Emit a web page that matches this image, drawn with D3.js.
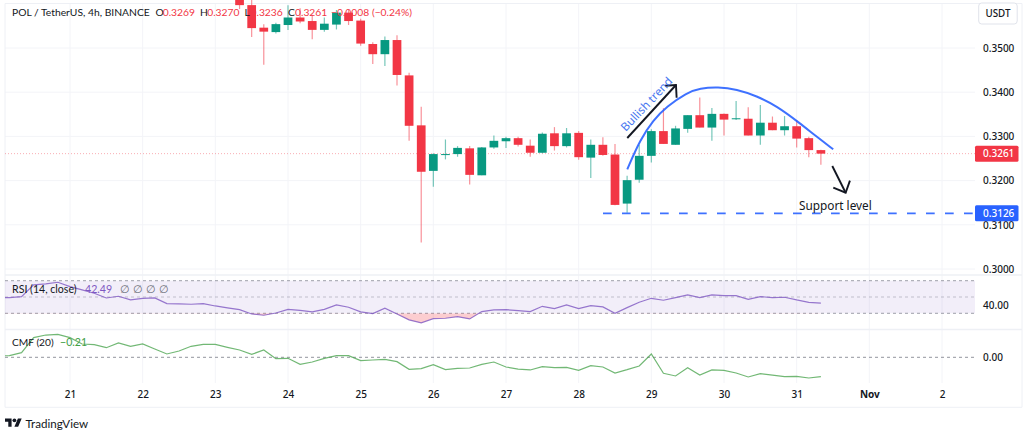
<!DOCTYPE html>
<html><head><meta charset="utf-8">
<script src="https://cdn.jsdelivr.net/npm/d3@7"></script>
<style>html,body{margin:0;padding:0;background:#fff;overflow:hidden}svg{display:block}text{font-family:"Noto Sans",sans-serif;fill:#131722}</style>
</head><body><svg id="c" width="1024" height="434"></svg>
<script>
// --- data ---
const opens=[.3615,.3597,.3546,.3536,.3552,.3569,.3561,.3541,.3553,.3580,.3562,.3509,.3486,.3518,.3438,.3325,.3222,.3258,.3260,.3273,.3212,.3275,.3289,.3296,.3279,.3263,.3307,.3278,.3308,.3252,.3281,.3259,.3148,.3202,.3256,.3312,.3281,.3317,.3348,.3320,.3351,.3339,.3340,.3302,.3331,.3314,.3323,.3296,.3269];
const highs=[.3620,.3618,.3554,.3557,.3597,.3590,.3575,.3569,.3586,.3586,.3566,.3513,.3526,.3529,.3444,.3367,.3262,.3293,.3278,.3278,.3276,.3302,.3299,.3299,.3293,.3309,.3321,.3319,.3312,.3293,.3298,.3283,.3211,.3281,.3316,.3364,.3324,.3348,.3388,.3364,.3352,.3380,.3366,.3371,.3345,.3346,.3337,.3299,.3270];
const lows=[.3588,.3525,.3462,.3533,.3541,.3556,.3520,.3537,.3542,.3552,.3505,.3464,.3459,.3415,.3290,.3060,.3186,.3248,.3254,.3191,.3212,.3272,.3274,.3277,.3254,.3262,.3268,.3275,.3247,.3206,.3256,.3144,.3127,.3195,.3241,.3283,.3281,.3308,.3320,.3290,.3302,.3337,.3302,.3281,.3314,.3302,.3275,.3253,.3236];
const closes=[.3597,.3545,.3537,.3554,.3569,.3560,.3541,.3555,.3580,.3561,.3510,.3486,.3518,.3439,.3324,.3220,.3260,.3260,.3274,.3213,.3275,.3290,.3296,.3281,.3263,.3306,.3278,.3307,.3253,.3281,.3258,.3145,.3201,.3256,.3312,.3283,.3318,.3348,.3320,.3351,.3338,.3341,.3302,.3331,.3314,.3323,.3295,.3269,.3261];
const rsiValues=[48.8,49.3,50.5,64.8,66.0,68.1,62.8,58.7,54.6,48.8,50.9,46.4,48.4,48.8,41.9,41.5,41.1,41.9,39.0,36.6,34.5,29.2,27.6,30.4,34.9,33.7,31.7,34.9,40.3,37.4,31.7,29.6,36.2,29.2,21.9,18.2,23.5,23.9,25.9,23.1,32.1,34.1,34.5,33.3,32.1,38.6,35.8,40.3,35.8,39.4,37.8,30.0,37.0,43.5,48.4,46.0,49.3,52.5,49.3,52.5,51.7,51.7,47.2,50.5,49.3,49.7,46.4,43.5,42.49];
const cmfValues=[.014,.018,.050,.213,.241,.249,.213,.144,.137,.104,.155,.119,.144,.090,.036,.068,.119,.140,.140,.108,.079,.032,.079,-.015,-.011,-.076,-.051,-.011,.018,.018,-.036,-.029,-.022,-.047,-.130,-.123,-.080,-.134,-.119,-.116,-.076,-.051,-.105,-.127,-.137,-.101,-.112,-.109,-.141,-.091,-.105,-.170,-.134,-.094,.036,-.173,-.202,-.112,-.192,-.137,-.141,-.170,-.213,-.177,-.192,-.210,-.206,-.224,-.21];
const priceTicks=[.30,.31,.32,.33,.34,.35];
const dayTicks=[["2024-10-21","21"],["2024-10-22","22"],["2024-10-23","23"],["2024-10-24","24"],["2024-10-25","25"],["2024-10-26","26"],["2024-10-27","27"],["2024-10-28","28"],["2024-10-29","29"],["2024-10-30","30"],["2024-10-31","31"],["2024-11-01","Nov"],["2024-11-02","2"]];
const lastPrice=.3261, supportPrice=.3126;
// annotations: day of October (fractional) and price
const arcDays=[28.669,28.844,29.027,29.211,29.486,29.669,29.917,30.174,30.449,30.724,31.045,31.275,31.503];
const arcPrices=[.32256,.32919,.33371,.33672,.33989,.34088,.34118,.34066,.33914,.33688,.33296,.32993,.32708];
const upArrowDays=[28.669,29.339], upArrowPrices=[.32964,.34163];
const upHeadDays=[29.188,29.339,29.348], upHeadPrices=[.34147,.34163,.33876];
const downArrowDays=[31.490,31.674], downArrowPrices=[.32330,.31726];
const downHeadDays=[31.504,31.674,31.733], downHeadPrices=[.31839,.31726,.31998];
const supportStartDay=28.335;

// --- layout ---
const L=5,R=975,W=1022,T=3.5,mainB=275,rsiB=329.5,plotB=383,axisB=407.3;
const UP="#089981",DOWN="#f23645",BLUE="#2962ff",GRID="#f3f4f8",LINE="#eef0f5";
const LATO='Lato,sans-serif';
const H4=4*36e5, candleStart=Date.UTC(2024,9,23,8), indicatorStart=Date.UTC(2024,9,20,0);
const x=d3.scaleUtc().domain([new Date("2024-10-21"),new Date("2024-11-02")]).range([70,942]);
const y=d3.scaleLinear().domain([.30,.35]).range([269,48]);
const yR=d3.scaleLinear().domain([30,70]).range([313.3,280.7]);
const yC=d3.scaleLinear().domain([-.21,0]).range([376.7,357.3]);
const dayX=d=>x(new Date(Date.UTC(2024,9,1)+(d-1)*864e5));
const svg=d3.select("#c");
const defs=svg.append("defs");
const clip=(id,a,b)=>defs.append("clipPath").attr("id",id).append("rect").attr("x",L).attr("y",a).attr("width",R-L).attr("height",b-a);
clip("cMain",0,mainB);clip("cRsi",mainB,rsiB);clip("cCmf",rsiB,plotB);clip("cLow",yR(30),rsiB);

// grid and frame
const g=svg.append("g");
g.selectAll(".v").data(dayTicks).join("line").attr("x1",d=>x(new Date(d[0]))).attr("x2",d=>x(new Date(d[0]))).attr("y1",T).attr("y2",plotB).attr("stroke",GRID);
g.selectAll(".h").data(priceTicks).join("line").attr("x1",L).attr("x2",R).attr("y1",d=>y(d)).attr("y2",d=>y(d)).attr("stroke",GRID);
const frame=(x1,y1,x2,y2,w)=>g.append("line").attr("x1",x1).attr("y1",y1).attr("x2",x2).attr("y2",y2).attr("stroke",LINE).attr("stroke-width",w||1);
frame(L,T,W,T);frame(L,T,L,axisB);frame(W,T,W,axisB);frame(L,axisB,W,axisB);frame(L,mainB,W,mainB,1.5);frame(L,rsiB,W,rsiB,1.5);

// candles
const step=x(new Date(candleStart+H4))-x(new Date(candleStart));
const cw=step*.72;
const candles=opens.map((o,i)=>({t:new Date(candleStart+i*H4),o,h:highs[i],l:lows[i],c:closes[i]}));
const cg=svg.append("g").attr("clip-path","url(#cMain)");
const col=d=>d.c>=d.o?UP:DOWN;

// last price line
cg.append("line").attr("x1",L).attr("x2",R).attr("y1",y(lastPrice)).attr("y2",y(lastPrice)).attr("stroke",DOWN).attr("stroke-opacity",.4).attr("stroke-dasharray","1 2");

cg.selectAll(".w").data(candles).join("line").attr("x1",d=>x(d.t)).attr("x2",d=>x(d.t)).attr("y1",d=>y(d.h)).attr("y2",d=>y(d.l)).attr("stroke",col).attr("stroke-opacity",.55).attr("stroke-width",1.2);
cg.selectAll(".b").data(candles).join("rect").attr("x",d=>x(d.t)-cw/2).attr("width",cw).attr("y",d=>y(Math.max(d.o,d.c))).attr("height",d=>Math.max(1,Math.abs(y(d.o)-y(d.c)))).attr("fill",col);

// annotations
const ann=svg.append("g").attr("clip-path","url(#cMain)");
const lineD=d3.line().x(d=>dayX(d[0])).y(d=>y(d[1]));
ann.append("path").attr("d",lineD.curve(d3.curveBasis)(d3.zip(arcDays,arcPrices))).attr("fill","none").attr("stroke",BLUE).attr("stroke-opacity",.9).attr("stroke-width",2);
lineD.curve(d3.curveLinear);
[[upArrowDays,upArrowPrices],[upHeadDays,upHeadPrices],[downArrowDays,downArrowPrices],[downHeadDays,downHeadPrices]].forEach(([a,b])=>
  ann.append("path").attr("d",lineD(d3.zip(a,b))).attr("fill","none").attr("stroke","#131722").attr("stroke-width",1.9));
svg.append("line").attr("x1",dayX(supportStartDay)).attr("x2",R).attr("y1",y(supportPrice)).attr("y2",y(supportPrice)).attr("stroke",BLUE).attr("stroke-opacity",.9).attr("stroke-width",1.7).attr("stroke-dasharray","8.7 10.3");
svg.append("text").attr("transform",`translate(${dayX(28.669)-1.5},${y(.32964)-6}) rotate(-46.5)`).style("font-size","11.6px").style("fill","#4a78f0").text("Bullish trend");
svg.append("text").attr("x",799).attr("y",y(supportPrice)-3.3).style("font-size","11.8px").text("Support level");

// RSI pane
const rg=svg.append("g").attr("clip-path","url(#cRsi)");
rg.append("rect").attr("x",L).attr("width",R-L).attr("y",yR(70)).attr("height",yR(30)-yR(70)).attr("fill","#7e57c2").attr("fill-opacity",.1);
[70,50,30].forEach((v,i)=>rg.append("line").attr("x1",L).attr("x2",R).attr("y1",yR(v)).attr("y2",yR(v)).attr("stroke","#787b86").attr("stroke-opacity",i==1?.4:.7).attr("stroke-dasharray","3 3"));
const idx=i=>x(new Date(indicatorStart+i*H4));
rg.append("path").attr("clip-path","url(#cLow)").attr("d",d3.area().x((d,i)=>idx(i)).y0(yR(30)).y1(d=>yR(d))(rsiValues)).attr("fill",DOWN).attr("fill-opacity",.25);
rg.append("path").attr("d",d3.line().x((d,i)=>idx(i)).y(d=>yR(d))(rsiValues)).attr("fill","none").attr("stroke","#7e57c2").attr("stroke-opacity",.8).attr("stroke-width",1.2);

// CMF pane
const mg=svg.append("g").attr("clip-path","url(#cCmf)");
mg.append("line").attr("x1",L).attr("x2",R).attr("y1",yC(0)).attr("y2",yC(0)).attr("stroke","#787b86").attr("stroke-opacity",.8).attr("stroke-dasharray","3 3");
mg.append("path").attr("d",d3.line().x((d,i)=>idx(i)).y(d=>yC(d))(cmfValues)).attr("fill","none").attr("stroke","#43a047").attr("stroke-opacity",.75).attr("stroke-width",1.2);

// axes
const styleAxis=s=>{s.select(".domain").remove();s.selectAll(".tick line").remove();s.selectAll("text").style("font-size","10px").style("font-weight",500).attr("fill",null);};
svg.append("g").attr("transform",`translate(${R},0)`).call(d3.axisRight(y).tickValues(priceTicks).tickFormat(d3.format(".4f")).tickSize(0).tickPadding(8)).call(styleAxis);
svg.append("g").attr("transform",`translate(${R},0)`).call(d3.axisRight(yR).tickValues([40]).tickFormat(d3.format(".2f")).tickSize(0).tickPadding(8)).call(styleAxis);
svg.append("g").attr("transform",`translate(${R},0)`).call(d3.axisRight(yC).tickValues([0]).tickFormat(d3.format(".2f")).tickSize(0).tickPadding(8)).call(styleAxis);
const labelOf=new Map(dayTicks.map(d=>[+new Date(d[0]),d[1]]));
const ta=svg.append("g").attr("transform",`translate(0,${plotB})`).call(d3.axisBottom(x).tickValues(dayTicks.map(d=>new Date(d[0]))).tickFormat(d=>labelOf.get(+d)).tickSize(0).tickPadding(8)).call(styleAxis);
ta.selectAll("text").filter(function(){return this.textContent==="Nov"}).style("font-weight",700);

// price tags
const tag=(p,c,t)=>{const yy=y(p);svg.append("rect").attr("x",R).attr("y",yy-8).attr("width",43.5).attr("height",16).attr("rx",1.5).attr("fill",c);
 svg.append("text").attr("x",983).attr("y",yy).attr("dy",".35em").style("font-size","10px").style("font-weight",500).style("fill","#fff").text(t);};
tag(lastPrice,DOWN,"0.3261");tag(supportPrice,BLUE,"0.3126");
svg.append("rect").attr("x",978.7).attr("y",3).attr("width",38.5).attr("height",21).attr("rx",3).attr("fill","#fff").attr("stroke","#e0e3eb");
svg.append("text").attr("x",998).attr("y",13.5).attr("dy",".35em").attr("text-anchor","middle").style("font-size","9.8px").style("font-weight",500).text("USDT");

// legends
const leg=(xx,yy,t,c,s)=>svg.append("text").attr("x",xx).attr("y",yy).attr("dy",".35em").style("font-family",LATO).style("font-size",(s||10.3)+"px").style("fill",c||"#131722").text(t);
leg(12,12.5,"POL / TetherUS, 4h, BINANCE");
[[155.5,"O",162.7,"0.3269"],[200,"H",207.2,"0.3270"],[244.5,"L",250.5,"0.3236"],[288,"C",295,"0.3261"]].forEach(a=>{leg(a[0],12.5,a[1]);leg(a[2],12.5,a[3],DOWN);});
leg(331,12.5,"\u22120.0008 (\u22120.24%)",DOWN);
leg(12,289,"RSI (14, close)",null,10.6);leg(85,289,"42.49","#7e57c2",10.6);
[120,133,146,159].forEach(a=>leg(a,289,"\u2205","#6a6d78",10.6));
leg(12,342.5,"CMF (20)",null,10.2);leg(60,342.5,"\u22120.21","#43a047",10.6);

// logo
const logo=svg.append("g").attr("transform","translate(5,416.5) scale(.47)");
logo.append("path").attr("d","M14 22H7V11H0V4h14v18zM28 22h-8l7.5-18h8L28 22z").attr("fill","#131722");
logo.append("circle").attr("cx",20).attr("cy",8).attr("r",4).attr("fill","#131722");
svg.append("text").attr("x",25.5).attr("y",428).style("font-family",LATO).style("font-size","11.6px").text("TradingView");
</script></body></html>
